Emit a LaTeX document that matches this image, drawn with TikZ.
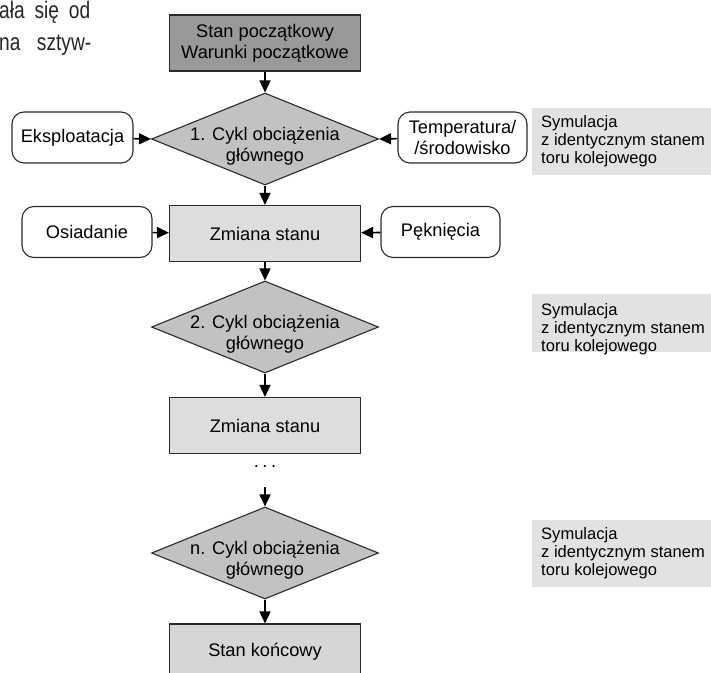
\documentclass[tikz,border=0pt]{standalone}
\usepackage{fontspec}
\setmainfont{Liberation Sans}
\newfontfamily\condfont[FakeStretch=0.8]{Liberation Sans}
\usetikzlibrary{shapes.geometric,arrows.meta}
\definecolor{startfill}{HTML}{999999}
\definecolor{decfill}{HTML}{C2C2C4}
\definecolor{procfill}{HTML}{DDDDDE}
\definecolor{endfill}{HTML}{D6D6D7}
\definecolor{simfill}{HTML}{E2E2E3}
\definecolor{linecol}{HTML}{2A2A2A}
\newcommand{\mainsz}{\fontsize{18.3}{21}\selectfont}
\newcommand{\simsz}{\fontsize{16.6}{18}\selectfont}
\begin{document}
\begin{tikzpicture}[x=1bp,y=-1bp,
  box/.style={draw=linecol, line width=1.1bp, minimum width=191bp, minimum height=56bp, inner sep=0pt, font=\mainsz, align=center},
  startbox/.style={box, fill=startfill},
  procbox/.style={box, fill=procfill},
  endbox/.style={box, fill=endfill},
  sidebox/.style={draw=linecol, line width=1.1bp, rounded corners=12bp, fill=white, minimum height=51bp, inner sep=0pt, font=\mainsz, align=center},
  decision/.style={diamond, draw=linecol, line width=1.1bp, fill=decfill, minimum width=227bp, minimum height=92bp, inner sep=0pt},
  dtext/.style={font=\mainsz, align=center, inner sep=0pt},
  simbox/.style={fill=simfill, minimum width=179bp, anchor=north west, inner sep=0pt},
  simtext/.style={font=\simsz, align=left, anchor=north west, inner sep=0pt},
  arr/.style={line width=1.6bp, draw=black, -{Triangle[length=12bp,width=11bp]}},
  frag/.style={font=\condfont\fontsize{24}{28}\selectfont, anchor=base west, inner sep=0pt, text=black!85}
]
\useasboundingbox (0,0) rectangle (711,673);

% clipped paragraph text at top left
\node[frag] (f1) at (-1,19) {\makebox[91bp][s]{ała się od}};
\node[frag] (f2) at (-1,51) {\makebox[92bp][s]{na sztyw-}};

% main column
\node[startbox] (s0) at (265,43) {Stan początkowy\\Warunki początkowe};
\node[decision] (d1) at (265,139) {};
\node[dtext] (d1t) at (265,146) {1. Cykl obciążenia\\głównego};
\node[procbox] (z1) at (265,233.5) {Zmiana stanu};
\node[decision] (d2) at (265,327) {};
\node[dtext] (d2t) at (265,334) {2. Cykl obciążenia\\głównego};
\node[procbox] (z2) at (265,425.5) {Zmiana stanu};
\node[font=\mainsz, inner sep=0pt] (dots) at (265,467) {.\hspace{3.5bp}.\hspace{3.5bp}.};
\coordinate (c3) at (265,487);
\node[decision] (d3) at (265,553) {};
\node[dtext] (d3t) at (265,560) {n. Cykl obciążenia\\głównego};
\node[endbox] (end) at (265,652) {Stan końcowy};

% side inputs
\node[sidebox, minimum width=121bp] (e) at (72.5,137.5) {Eksploatacja};
\node[sidebox, minimum width=129bp] (t) at (462.5,137.5) {Temperatura/\\/środowisko};
\node[sidebox, minimum width=130bp] (o) at (87,232) {Osiadanie};
\node[sidebox, minimum width=119bp] (p) at (440.5,232) {Pęknięcia};

% simulation notes
\node[simbox, minimum height=67bp] (sim1) at (532,108) {};
\node[simtext] (sim1t) at (541,115) {Symulacja\\z identycznym stanem\\toru kolejowego};
\node[simbox, minimum height=58bp] (sim2) at (532,294) {};
\node[simtext] (sim2t) at (541,303) {Symulacja\\z identycznym stanem\\toru kolejowego};
\node[simbox, minimum height=67bp] (sim3) at (532,520) {};
\node[simtext] (sim3t) at (541,527) {Symulacja\\z identycznym stanem\\toru kolejowego};

% connectors
\draw[arr] (s0) -- (d1.north);
\draw[arr] (d1.south) -- (z1);
\draw[arr] (z1) -- (d2.north);
\draw[arr] (d2.south) -- (z2);
\draw[arr] (c3) -- (d3.north);
\draw[arr] (d3.south) -- (end);
\draw[arr] (e) -- (d1.west);
\draw[arr] (t) -- (d1.east);
\draw[arr] (o) -- (z1);
\draw[arr] (p) -- (z1);
\end{tikzpicture}
\end{document}
